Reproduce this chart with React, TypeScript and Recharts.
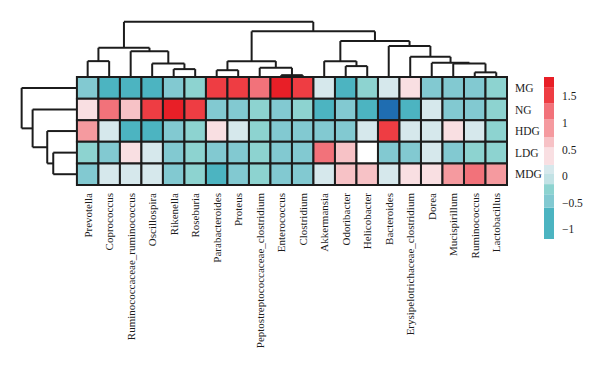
import { ComposedChart, ReferenceArea, ReferenceLine, Scatter, XAxis, YAxis } from "recharts";

const genera = [
  "Prevotella",
  "Coprococcus",
  "Ruminococcaceae_ruminococcus",
  "Oscillospira",
  "Rikenella",
  "Roseburia",
  "Parabacteroides",
  "Proteus",
  "Peptostreptococcaceae_clostridium",
  "Enterococcus",
  "Clostridium",
  "Akkermansia",
  "Odoribacter",
  "Helicobacter",
  "Bacteroides",
  "Erysipelotrichaceae_clostridium",
  "Dorea",
  "Mucispirillum",
  "Ruminococcus",
  "Lactobacillus",
];

const groups = ["MG", "NG", "HDG", "LDG", "MDG"];

// z-scores per group, same order as genera
const mg = [-0.45, -0.78, -0.8, -0.82, -0.45, -0.26, 1.52, 1.5, 1.22, 1.75, 1.54, 0.1, -0.8, -0.28, 0.1, 0.38, -0.47, -0.46, -0.48, -0.27];
const ng = [0.35, 1.18, 0.62, 1.5, 1.78, 1.52, -0.44, -0.46, -0.26, -0.46, -0.26, -0.72, -0.48, -0.74, -1.6, -0.75, 0.1, -0.46, -0.48, -0.27];
const hdg = [0.88, 0.12, -0.8, -0.82, -0.46, -0.26, 0.36, 0.1, -0.27, -0.46, -0.47, -0.45, -0.46, 0.1, 1.52, 0.1, 0.1, 0.36, 0.1, -0.27];
const ldg = [-0.27, -0.46, 0.38, 0.1, -0.45, -0.26, -0.46, -0.46, -0.27, -0.45, -0.47, 1.2, 0.64, null, -0.46, -0.45, 0.1, -0.47, -0.3, -0.27];
const mdg = [-0.45, 0.1, 0.1, 0.1, -0.46, -0.27, -0.8, -0.46, -0.27, -0.46, -0.46, 0.1, 0.65, 0.64, 0.1, 0.38, 0.36, 0.9, 1.2, 0.88];

const rows = [mg, ng, hdg, ldg, mdg];

// linkage: [childA, childB, height], ids >= leaf count point to earlier merges
const colLinkage = [
  [4, 5, 0.37],
  [3, 20, 0.63],
  [2, 21, 1.2],
  [0, 1, 0.74],
  [23, 22, 1.36],
  [6, 7, 0.32],
  [9, 10, 0.09],
  [8, 26, 0.43],
  [25, 27, 0.74],
  [12, 13, 0.51],
  [11, 29, 0.74],
  [18, 19, 0.22],
  [17, 31, 0.63],
  [16, 32, 0.66],
  [15, 33, 0.94],
  [14, 34, 1.44],
  [30, 35, 1.67],
  [28, 36, 2.12],
  [24, 37, 2.56],
];

const rowLinkage = [
  [3, 4, 1.1],
  [2, 5, 1.38],
  [1, 6, 2.06],
  [0, 7, 2.57],
];

const breaks = [-1.18, -0.59, -0.34, -0.15, 0.04, 0.21, 0.54, 0.73, 1.07, 1.37, 1.67, 1.86];
const palette = ["#4cb4c1", "#82c9d1", "#8dd3d0", "#c2e2e5", "#d6e8ec", "#f9dfe2", "#f7c2c6", "#f59a9f", "#f2727a", "#ee3d43", "#e81f27"];
const colorTicks = [-1, -0.5, 0, 0.5, 1, 1.5];

const FONT = "'Liberation Serif', 'Times New Roman', serif";
const INK = "#1c1c1c";
const TREE_H = 2.6;

function colorFor(v: number | null) {
  if (v === null) return "#ffffff";
  if (v < breaks[0]) return "#1f6db1";
  for (let i = 0; i < palette.length; i++) {
    if (v < breaks[i + 1]) return palette[i];
  }
  return palette[palette.length - 1];
}

type Seg = [{ x: number; y: number }, { x: number; y: number }];

// walk a linkage and return U-shaped segments, leaf positions given by leafPos
function treeSegments(
  linkage: number[][],
  n: number,
  leafPos: (i: number) => number,
  toPoint: (pos: number, h: number) => { x: number; y: number }
) {
  const pos: number[] = [];
  const hgt: number[] = [];
  for (let i = 0; i < n; i++) {
    pos[i] = leafPos(i);
    hgt[i] = 0;
  }
  const segs: Seg[] = [];
  linkage.forEach(([a, b, h], k) => {
    const id = n + k;
    segs.push([toPoint(pos[a], hgt[a]), toPoint(pos[a], h)]);
    segs.push([toPoint(pos[b], hgt[b]), toPoint(pos[b], h)]);
    segs.push([toPoint(pos[a], h), toPoint(pos[b], h)]);
    pos[id] = (pos[a] + pos[b]) / 2;
    hgt[id] = h;
  });
  return segs;
}

const colSegs = treeSegments(
  colLinkage,
  genera.length,
  (i) => i + 0.5,
  (p, h) => ({ x: p, y: groups.length + h })
);

const rowSegs = treeSegments(
  rowLinkage,
  groups.length,
  (j) => groups.length - 1 - j + 0.5,
  (p, h) => ({ x: -h, y: p })
);

const cells = rows.flatMap((vals, r) =>
  vals.map((v, c) => ({ x: c + 0.5, y: groups.length - 1 - r + 0.5, v, col: c, row: groups.length - 1 - r }))
);

function GenusTick(props: any) {
  const { x, y, payload } = props;
  const name = genera[Math.floor(payload.value)];
  return (
    <text
      x={x}
      y={y}
      dy="0.35em"
      transform={`rotate(-90, ${x}, ${y})`}
      textAnchor="end"
      fill={INK}
      fontSize={11}
      fontFamily={FONT}
    >
      {name}
    </text>
  );
}

export default function App() {
  return (
    <div style={{ position: "absolute", left: 0, top: 0, width: 600, height: 371, background: "#fff" }}>
      <ComposedChart
        width={600}
        height={371}
        margin={{ top: 21, right: 13, bottom: 16, left: 21 }}
        style={{ position: "absolute", left: 0, top: 0 }}
      >
        <XAxis
          type="number"
          dataKey="x"
          domain={[-TREE_H, genera.length]}
          allowDataOverflow
          ticks={genera.map((_, i) => i + 0.5)}
          interval={0}
          axisLine={false}
          tickLine={false}
          height={170}
          tick={<GenusTick />}
        />
        <YAxis
          type="number"
          dataKey="y"
          orientation="right"
          domain={[0, groups.length + TREE_H]}
          allowDataOverflow
          ticks={groups.map((_, i) => i + 0.5)}
          interval={0}
          tickFormatter={(v: number) => groups[groups.length - 1 - Math.floor(v)]}
          axisLine={false}
          tickLine={false}
          width={80}
          tick={{ fill: INK, fontSize: 11.5, fontFamily: FONT }}
        />
        {cells.map((d) => (
          <ReferenceArea
            key={`c-${d.row}-${d.col}`}
            x1={d.col}
            x2={d.col + 1}
            y1={d.row}
            y2={d.row + 1}
            fill={colorFor(d.v)}
            fillOpacity={1}
            stroke={INK}
            strokeWidth={2}
            ifOverflow="visible"
          />
        ))}
        {colSegs.map((s, i) => (
          <ReferenceLine key={`cs-${i}`} segment={s} stroke={INK} strokeWidth={2} ifOverflow="visible" />
        ))}
        {rowSegs.map((s, i) => (
          <ReferenceLine key={`rs-${i}`} segment={s} stroke={INK} strokeWidth={2} ifOverflow="visible" />
        ))}
        <Scatter data={cells} dataKey="y" fill="none" shape={() => <g />} isAnimationActive={false} />
      </ComposedChart>

      <ComposedChart
        width={60}
        height={180}
        margin={{ top: 7, right: 14, bottom: 11, left: 6 }}
        style={{ position: "absolute", left: 538, top: 70 }}
      >
        <XAxis type="number" dataKey="x" domain={[0, 1]} hide />
        <YAxis
          type="number"
          dataKey="y"
          orientation="right"
          domain={[breaks[0], breaks[breaks.length - 1]]}
          allowDataOverflow
          ticks={colorTicks}
          interval={0}
          tickFormatter={(v: number) => (v < 0 ? `\u2212${Math.abs(v)}` : `${v}`)}
          axisLine={false}
          tickLine={false}
          width={30}
          tick={{ fill: INK, fontSize: 11.5, fontFamily: FONT }}
        />
        {palette.map((c, i) => (
          <ReferenceArea
            key={`b-${i}`}
            x1={0}
            x2={1}
            y1={breaks[i]}
            y2={breaks[i + 1]}
            fill={c}
            fillOpacity={1}
            stroke="none"
            ifOverflow="visible"
          />
        ))}
        <Scatter
          data={colorTicks.map((t) => ({ x: 0.5, y: t }))}
          dataKey="y"
          fill="none"
          shape={() => <g />}
          isAnimationActive={false}
        />
      </ComposedChart>
    </div>
  );
}
